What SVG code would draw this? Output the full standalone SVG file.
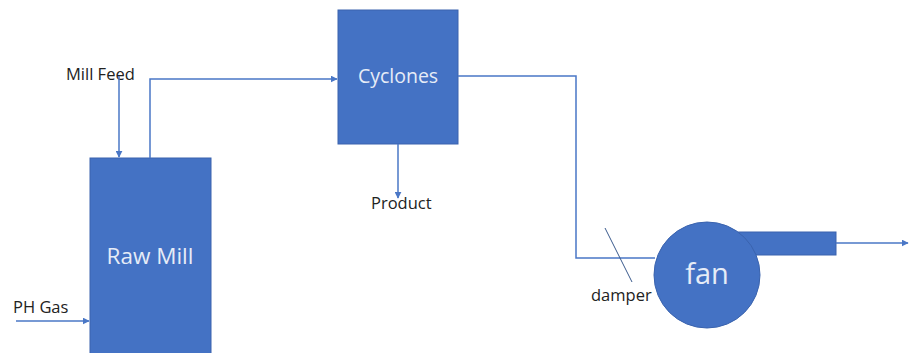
<svg xmlns="http://www.w3.org/2000/svg" width="909" height="353" viewBox="0 0 909 353">
<style>
.box{fill:#4472C4;stroke:#3A63AE;stroke-width:1}
.ln{fill:none;stroke:#4A77C6;stroke-width:1.5}
.lbl{font-family:"Open Sans","Liberation Sans",sans-serif;font-size:16.5px;fill:#222}
.in{font-family:"Open Sans","Liberation Sans",sans-serif;fill:#E6ECF7;text-anchor:middle}
</style>
<defs>
<marker id="ah" viewBox="0 0 10 10" refX="9" refY="5" markerWidth="7" markerHeight="7" orient="auto" markerUnits="userSpaceOnUse">
<path d="M0,0 L10,5 L0,10 z" fill="#4A77C6"/>
</marker>
</defs>
<rect width="909" height="353" fill="#fff"/>
<g id="raw-mill">
<rect class="box" x="90" y="158" width="121" height="200"/>
<text class="in" x="150" y="264" font-size="22.5">Raw Mill</text>
</g>
<g id="cyclones">
<rect class="box" x="338" y="10" width="120" height="134"/>
<text class="in" x="398" y="83" font-size="19.5">Cyclones</text>
</g>
<g id="fan">
<rect class="box" x="738" y="232" width="98" height="23"/>
<circle class="box" cx="707" cy="275" r="53"/>
<text class="in" x="707" y="284" font-size="29">fan</text>
</g>
<g id="labels">
<text class="lbl" x="66" y="80">Mill Feed</text>
<text class="lbl" x="13" y="313">PH Gas</text>
<text class="lbl" x="371" y="209">Product</text>
<text class="lbl" x="591" y="301">damper</text>
</g>
<g id="connectors">
<line class="ln" x1="119" y1="76" x2="119" y2="157" marker-end="url(#ah)"/>
<polyline class="ln" points="150,158 150,79 337,79" marker-end="url(#ah)"/>
<line class="ln" x1="16" y1="321" x2="89" y2="321" marker-end="url(#ah)"/>
<line class="ln" x1="398" y1="144" x2="398" y2="198" marker-end="url(#ah)"/>
<polyline class="ln" points="458,76 576,76 576,258 655,258"/>
<line class="ln" x1="836" y1="243" x2="908" y2="243" marker-end="url(#ah)"/>
<line x1="605" y1="228" x2="632" y2="282" stroke="#3A5A8C" stroke-width="1"/>
</g>
</svg>
